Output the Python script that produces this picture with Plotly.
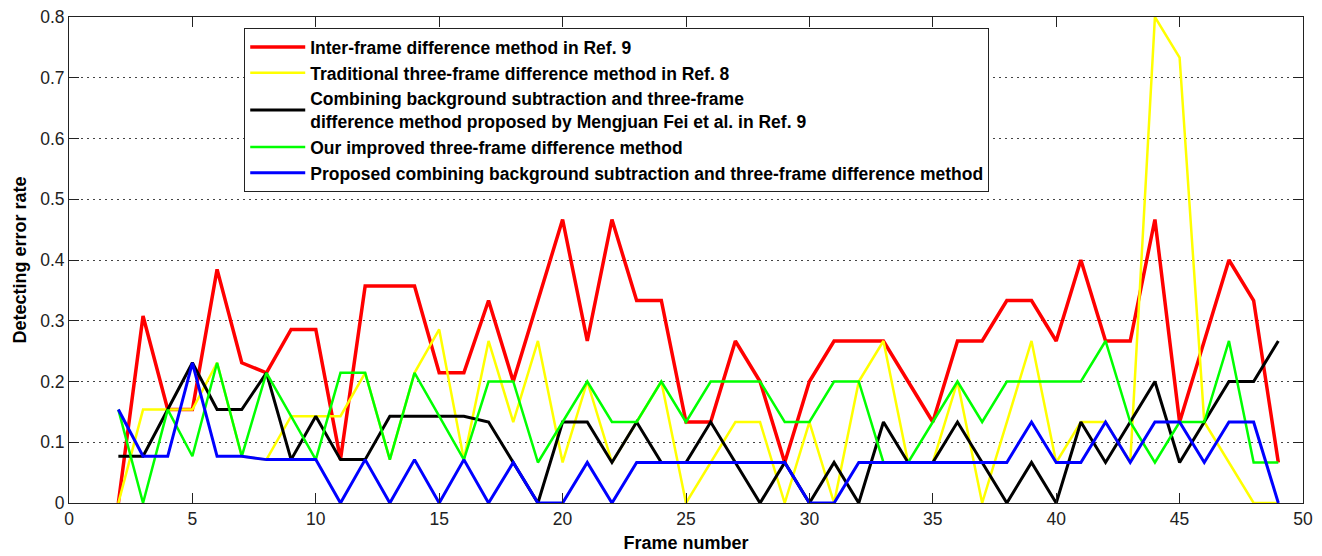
import plotly.graph_objects as go

frames = list(range(2, 50))

red = [0, 0.3077, 0.1538, 0.1538, 0.3846, 0.2308, 0.2143, 0.2857, 0.2857, 0.0714,
       0.3571, 0.3571, 0.3571, 0.2143, 0.2143, 0.3333, 0.2, 0.3333, 0.4667, 0.2667,
       0.4667, 0.3333, 0.3333, 0.1333, 0.1333, 0.2667, 0.2, 0.0667, 0.2, 0.2667,
       0.2667, 0.2667, 0.2, 0.1333, 0.2667, 0.2667, 0.3333, 0.3333, 0.2667, 0.4,
       0.2667, 0.2667, 0.4667, 0.1333, 0.2667, 0.4, 0.3333, 0.0667]

yellow = [0, 0.1538, 0.1538, 0.1538, 0.2308, 0.0769, 0.0714, 0.1429, 0.1429, 0.1429,
          0.2143, 0.0714, 0.2143, 0.2857, 0.0714, 0.2667, 0.1333, 0.2667, 0.0667, 0.2,
          0.0667, 0.1333, 0.2, 0, 0.0667, 0.1333, 0.1333, 0, 0.1333, 0,
          0.2, 0.2667, 0.0667, 0.0667, 0.2, 0, 0.1333, 0.2667, 0.0667, 0.1333,
          0.1333, 0.0667, 0.8, 0.7333, 0.1333, 0.0667, 0, 0]

black = [0.0769, 0.0769, 0.1538, 0.2308, 0.1538, 0.1538, 0.2143, 0.0714, 0.1429, 0.0714,
         0.0714, 0.1429, 0.1429, 0.1429, 0.1429, 0.1333, 0.0667, 0, 0.1333, 0.1333,
         0.0667, 0.1333, 0.0667, 0.0667, 0.1333, 0.0667, 0, 0.0667, 0, 0.0667,
         0, 0.1333, 0.0667, 0.0667, 0.1333, 0.0667, 0, 0.0667, 0, 0.1333,
         0.0667, 0.1333, 0.2, 0.0667, 0.1333, 0.2, 0.2, 0.2667]

green = [0.1538, 0, 0.1538, 0.0769, 0.2308, 0.0769, 0.2143, 0.1429, 0.0714, 0.2143,
         0.2143, 0.0714, 0.2143, 0.1429, 0.0714, 0.2, 0.2, 0.0667, 0.1333, 0.2,
         0.1333, 0.1333, 0.2, 0.1333, 0.2, 0.2, 0.2, 0.1333, 0.1333, 0.2,
         0.2, 0.0667, 0.0667, 0.1333, 0.2, 0.1333, 0.2, 0.2, 0.2, 0.2,
         0.2667, 0.1333, 0.0667, 0.1333, 0.1333, 0.2667, 0.0667, 0.0667]

blue = [0.1538, 0.0769, 0.0769, 0.2308, 0.0769, 0.0769, 0.0714, 0.0714, 0.0714, 0,
        0.0714, 0, 0.0714, 0, 0.0714, 0, 0.0667, 0, 0, 0.0667,
        0, 0.0667, 0.0667, 0.0667, 0.0667, 0.0667, 0.0667, 0.0667, 0, 0,
        0.0667, 0.0667, 0.0667, 0.0667, 0.0667, 0.0667, 0.0667, 0.1333, 0.0667, 0.0667,
        0.1333, 0.0667, 0.1333, 0.1333, 0.0667, 0.1333, 0.1333, 0]

names = [
    "Inter-frame difference method in Ref. 9",
    "Traditional three-frame difference method in Ref. 8",
    "Combining background subtraction and three-frame<br>difference method proposed by Mengjuan Fei et al. in Ref. 9",
    "Our improved three-frame difference method",
    "Proposed combining background subtraction and three-frame difference method",
]
colors = ["#ff0000", "#ffff00", "#000000", "#00ff00", "#0000ff"]
widths = [3.5, 2.5, 3, 2.5, 3]
series = [red, yellow, black, green, blue]

xticks = list(range(0, 51, 5))
yticks = [0, 0.1, 0.2, 0.3, 0.4, 0.5, 0.6, 0.7, 0.8]
yticktext = ["0", "0.1", "0.2", "0.3", "0.4", "0.5", "0.6", "0.7", "0.8"]

fig = go.Figure()
for name, vals, c, w in zip(names, series, colors, widths):
    fig.add_trace(go.Scatter(x=frames, y=vals, mode="lines", name="<b>" + name + "</b>",
                             line=dict(color=c, width=w)))

axis_font = dict(family="Liberation Sans, Arial, sans-serif", size=17.5, color="#222")
title_font = dict(family="Liberation Sans, Arial, sans-serif", size=18, color="#000")
fig.update_layout(
    width=1314, height=548,
    margin=dict(l=61, r=19, t=9, b=53),
    plot_bgcolor="white", paper_bgcolor="white",
    showlegend=True,
    legend=dict(
        x=0.142, y=0.977, xanchor="left", yanchor="top",
        bgcolor="white", bordercolor="#222", borderwidth=1,
        font=dict(family="Liberation Sans, Arial, sans-serif", size=17.5, color="#000"),
        tracegroupgap=0, itemwidth=55,
    ),
    xaxis=dict(
        range=[0, 50], tickvals=xticks, ticks="inside", ticklen=10, tickcolor="#222",
        showline=True, linecolor="#222", linewidth=1, mirror="ticks",
        showgrid=False, zeroline=False, tickfont=axis_font, automargin=False,
        ticklabeloverflow="allow",
        title=dict(text="<b>Frame number</b>", font=title_font, standoff=8),
    ),
    yaxis=dict(
        range=[0, 0.8], tickvals=yticks, ticktext=yticktext, ticks="inside", ticklen=10, tickcolor="#222",
        showline=True, linecolor="#222", linewidth=1, mirror="ticks",
        showgrid=True, gridcolor="#444", gridwidth=1, griddash="2px,4px",
        zeroline=False, tickfont=axis_font, automargin=False,
        ticklabeloverflow="allow",
        title=dict(text="<b>Detecting error rate</b>", font=title_font, standoff=8),
    ),
)

fig.write_html("out.html")
